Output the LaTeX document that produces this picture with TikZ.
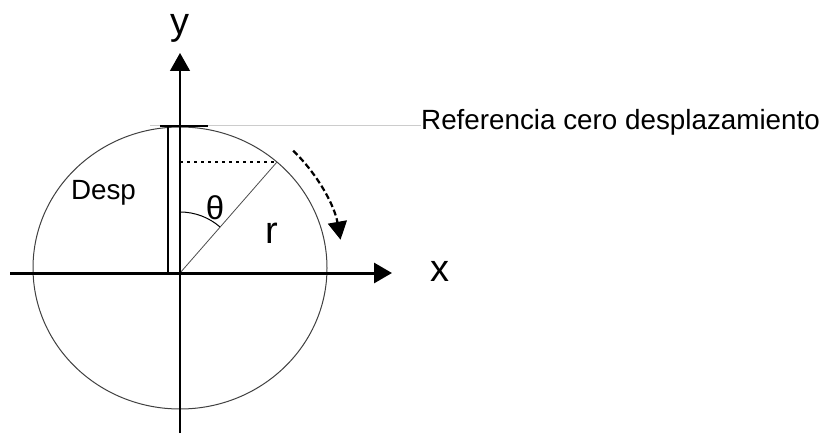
\documentclass[tikz,border=0pt]{standalone}
\usepackage{fontspec}
\setmainfont{Liberation Sans}
\usetikzlibrary{arrows.meta,calc}
\begin{document}
\begin{tikzpicture}[x=1pt,y=-1pt,
  lbl/.style={inner sep=0pt, font=\fontsize{27.8}{32}\selectfont},
  big/.style={inner sep=0pt, font=\fontsize{38}{40}\selectfont},
  tip/.style={-{Triangle[length=18pt,width=20pt]}},
]
\useasboundingbox (0,0) rectangle (822,441);
\coordinate (O) at (180,273);
\coordinate (C) at (180,268);
\coordinate (xs) at (10,273);
\coordinate (xe) at (392,273);
\coordinate (ys) at (180,433);
\coordinate (ye) at (180,53);
\coordinate (P) at (277,162);
\coordinate (Pd) at (180,162);
\coordinate (refL) at (150,126);
\coordinate (topA) at (160,126);
\coordinate (topB) at (208,126);
\coordinate (dspT) at (168,126);
\coordinate (dspB) at (168,273);
\coordinate (thS) at (180,212);
\coordinate (rotS) at ($(C)+(-46:163)$);
% circle
\draw[black!75, line width=1pt] (C) ellipse [x radius=147, y radius=141];
% labels
\node[big] (ylab) at (180,28) {y};
\node[big] (xlab) at (440,271) {x};
\node[lbl, anchor=base] (desp) at (103.5,200) {Desp};
\node[lbl, font=\fontsize{33}{35}\selectfont] (theta) at (215,208) {θ};
\node[big] (rlab) at (272,233) {r};
\node[lbl, anchor=base west] (ref) at (421,130) {Referencia cero desplazamiento};
% reference line
\draw[black!20, line width=1pt] (refL) -- (ref.west |- refL);
\draw[black, line width=1.5pt] (topA) -- (topB);
% displacement bar
\draw[black, line width=1.5pt] (dspT) -- (dspB);
% dotted projection
\draw[black, line width=2pt, dash pattern=on 3pt off 4pt] (Pd) -- (P);
% radius
\draw[black!70, line width=0.8pt] (O) -- (P);
% angle arc
\draw[black, line width=1pt] (thS) arc[start angle=-90, end angle=-49, radius=61];
% axes
\draw[line width=3pt, tip] (xs) -- (xe);
\draw[line width=1.3pt, tip] (ys) -- (ye);
% rotation arrow
\draw[line width=2.2pt, dash pattern=on 6pt off 3pt, -{Triangle[length=18pt,width=19pt]}]
  (rotS) arc[start angle=-46, end angle=-10, radius=163];
\end{tikzpicture}
\end{document}
